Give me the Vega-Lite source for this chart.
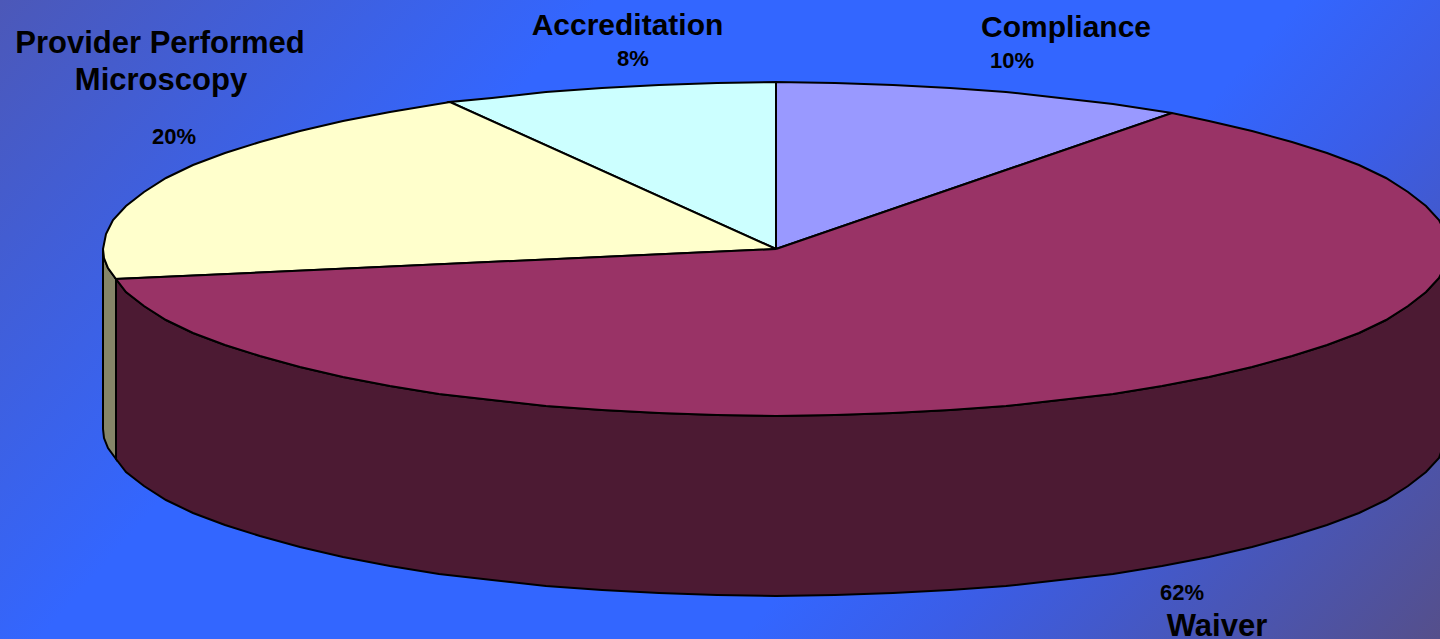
{
"$schema":"https://vega.github.io/schema/vega-lite/v6.json",
"autosize":"none",
"width":1440,"height":639,"padding":0,
"background":"#3366ff",
"config":{"view":{"stroke":null}},
"datasets":{
"frame":[{"x":0,"x2":1440,"y":0,"y2":639}],
"labels":[
{"t":"Provider Performed","x":160,"y":53,"s":"wide"},
{"t":"Microscopy","x":161,"y":90,"s":"wide"},
{"t":"Accreditation","x":627.5,"y":35,"s":"name"},
{"t":"Compliance","x":1066,"y":37,"s":"name"},
{"t":"Waiver","x":1217,"y":636,"s":"wide"},
{"t":"20%","x":174,"y":144,"s":"pct"},
{"t":"8%","x":633,"y":66,"s":"pct"},
{"t":"10%","x":1012,"y":68,"s":"pct"},
{"t":"62%","x":1182,"y":600,"s":"pct"}
],
"providerSide":[{"i":0,"x":103,"y":249},{"i":1,"x":104,"y":258},{"i":2,"x":108,"y":268},{"i":3,"x":116,"y":279},{"i":4,"x":116,"y":459},{"i":5,"x":108,"y":448},{"i":6,"x":104,"y":438},{"i":7,"x":103,"y":429},{"i":8,"x":103,"y":249}],
"waiverSide":[{"i":0,"x":116,"y":279},{"i":1,"x":126,"y":292},{"i":2,"x":144,"y":306},{"i":3,"x":166,"y":320},{"i":4,"x":193,"y":333},{"i":5,"x":225,"y":345},{"i":6,"x":260,"y":356},{"i":7,"x":300,"y":367},{"i":8,"x":343,"y":377},{"i":9,"x":390,"y":386},{"i":10,"x":439,"y":394},{"i":11,"x":492,"y":400},{"i":12,"x":546,"y":406},{"i":13,"x":602,"y":410},{"i":14,"x":659,"y":413},{"i":15,"x":717,"y":415},{"i":16,"x":776,"y":416},{"i":17,"x":835,"y":415},{"i":18,"x":893,"y":413},{"i":19,"x":950,"y":410},{"i":20,"x":1006,"y":406},{"i":21,"x":1060,"y":400},{"i":22,"x":1113,"y":394},{"i":23,"x":1162,"y":386},{"i":24,"x":1209,"y":377},{"i":25,"x":1252,"y":367},{"i":26,"x":1292,"y":356},{"i":27,"x":1327,"y":345},{"i":28,"x":1359,"y":333},{"i":29,"x":1386,"y":320},{"i":30,"x":1408,"y":306},{"i":31,"x":1426,"y":292},{"i":32,"x":1439,"y":278},{"i":33,"x":1449,"y":249},{"i":34,"x":1449,"y":429},{"i":35,"x":1439,"y":458},{"i":36,"x":1426,"y":472},{"i":37,"x":1408,"y":486},{"i":38,"x":1386,"y":500},{"i":39,"x":1359,"y":513},{"i":40,"x":1327,"y":525},{"i":41,"x":1292,"y":536},{"i":42,"x":1252,"y":547},{"i":43,"x":1209,"y":557},{"i":44,"x":1162,"y":566},{"i":45,"x":1113,"y":574},{"i":46,"x":1060,"y":580},{"i":47,"x":1006,"y":586},{"i":48,"x":950,"y":590},{"i":49,"x":893,"y":593},{"i":50,"x":835,"y":595},{"i":51,"x":776,"y":596},{"i":52,"x":717,"y":595},{"i":53,"x":659,"y":593},{"i":54,"x":602,"y":590},{"i":55,"x":546,"y":586},{"i":56,"x":492,"y":580},{"i":57,"x":439,"y":574},{"i":58,"x":390,"y":566},{"i":59,"x":343,"y":557},{"i":60,"x":300,"y":547},{"i":61,"x":260,"y":536},{"i":62,"x":225,"y":525},{"i":63,"x":193,"y":513},{"i":64,"x":166,"y":500},{"i":65,"x":144,"y":486},{"i":66,"x":126,"y":472},{"i":67,"x":116,"y":459},{"i":68,"x":116,"y":279}],
"compliance":[{"i":0,"x":776,"y":249},{"i":1,"x":776,"y":82},{"i":2,"x":835,"y":83},{"i":3,"x":893,"y":85},{"i":4,"x":950,"y":88},{"i":5,"x":1006,"y":92},{"i":6,"x":1060,"y":98},{"i":7,"x":1113,"y":104},{"i":8,"x":1172,"y":113},{"i":9,"x":776,"y":249}],
"accreditation":[{"i":0,"x":776,"y":249},{"i":1,"x":776,"y":82},{"i":2,"x":717,"y":83},{"i":3,"x":659,"y":85},{"i":4,"x":602,"y":88},{"i":5,"x":546,"y":92},{"i":6,"x":492,"y":98},{"i":7,"x":450,"y":102},{"i":8,"x":776,"y":249}],
"provider":[{"i":0,"x":776,"y":249},{"i":1,"x":450,"y":102},{"i":2,"x":390,"y":112},{"i":3,"x":343,"y":121},{"i":4,"x":300,"y":131},{"i":5,"x":260,"y":142},{"i":6,"x":225,"y":153},{"i":7,"x":193,"y":165},{"i":8,"x":166,"y":178},{"i":9,"x":144,"y":192},{"i":10,"x":126,"y":206},{"i":11,"x":113,"y":220},{"i":12,"x":106,"y":234},{"i":13,"x":103,"y":249},{"i":14,"x":104,"y":258},{"i":15,"x":108,"y":268},{"i":16,"x":116,"y":279},{"i":17,"x":776,"y":249}],
"waiver":[{"i":0,"x":776,"y":249},{"i":1,"x":1172,"y":113},{"i":2,"x":1209,"y":121},{"i":3,"x":1252,"y":131},{"i":4,"x":1292,"y":142},{"i":5,"x":1327,"y":153},{"i":6,"x":1359,"y":165},{"i":7,"x":1386,"y":178},{"i":8,"x":1408,"y":192},{"i":9,"x":1426,"y":206},{"i":10,"x":1439,"y":220},{"i":11,"x":1446,"y":234},{"i":12,"x":1449,"y":249},{"i":13,"x":1446,"y":264},{"i":14,"x":1439,"y":278},{"i":15,"x":1426,"y":292},{"i":16,"x":1408,"y":306},{"i":17,"x":1386,"y":320},{"i":18,"x":1359,"y":333},{"i":19,"x":1327,"y":345},{"i":20,"x":1292,"y":356},{"i":21,"x":1252,"y":367},{"i":22,"x":1209,"y":377},{"i":23,"x":1162,"y":386},{"i":24,"x":1113,"y":394},{"i":25,"x":1060,"y":400},{"i":26,"x":1006,"y":406},{"i":27,"x":950,"y":410},{"i":28,"x":893,"y":413},{"i":29,"x":835,"y":415},{"i":30,"x":776,"y":416},{"i":31,"x":717,"y":415},{"i":32,"x":659,"y":413},{"i":33,"x":602,"y":410},{"i":34,"x":546,"y":406},{"i":35,"x":492,"y":400},{"i":36,"x":439,"y":394},{"i":37,"x":390,"y":386},{"i":38,"x":343,"y":377},{"i":39,"x":300,"y":367},{"i":40,"x":260,"y":356},{"i":41,"x":225,"y":345},{"i":42,"x":193,"y":333},{"i":43,"x":166,"y":320},{"i":44,"x":144,"y":306},{"i":45,"x":126,"y":292},{"i":46,"x":116,"y":279},{"i":47,"x":776,"y":249}]
},
"encoding":{
"x":{"field":"x","type":"quantitative","axis":null,"scale":{"domain":[0,1440],"nice":false,"zero":false}},
"y":{"field":"y","type":"quantitative","axis":null,"scale":{"domain":[639,0],"nice":false,"zero":false}}
},
"layer":[
{"data":{"name":"frame"},
"mark":{"type":"rect","strokeWidth":0,"fill":{"gradient":"linear","x1":0,"y1":0,"x2":1.206,"y2":0.469,"stops":[{"offset":0,"color":"#4c58b8"},{"offset":0.3,"color":"#3366ff"},{"offset":0.65,"color":"#3366ff"},{"offset":0.75,"color":"#3b5de6"},{"offset":1,"color":"#554f8b"}]}},
"encoding":{"x2":{"field":"x2"},"y2":{"field":"y2"}}},
{"data":{"name":"providerSide"},"mark":{"type":"line","clip":true,"fill":"#858568","stroke":"#000000","strokeWidth":2},"encoding":{"order":{"field":"i","type":"quantitative"}}},
{"data":{"name":"waiverSide"},"mark":{"type":"line","clip":true,"fill":"#4c1a33","stroke":"#000000","strokeWidth":2},"encoding":{"order":{"field":"i","type":"quantitative"}}},
{"data":{"name":"compliance"},"mark":{"type":"line","clip":true,"fill":"#9999ff","stroke":"#000000","strokeWidth":2},"encoding":{"order":{"field":"i","type":"quantitative"}}},
{"data":{"name":"accreditation"},"mark":{"type":"line","clip":true,"fill":"#ccffff","stroke":"#000000","strokeWidth":2},"encoding":{"order":{"field":"i","type":"quantitative"}}},
{"data":{"name":"provider"},"mark":{"type":"line","clip":true,"fill":"#ffffcc","stroke":"#000000","strokeWidth":2},"encoding":{"order":{"field":"i","type":"quantitative"}}},
{"data":{"name":"waiver"},"mark":{"type":"line","clip":true,"fill":"#993366","stroke":"#000000","strokeWidth":2},"encoding":{"order":{"field":"i","type":"quantitative"}}},
{"data":{"name":"labels"},"transform":[{"filter":"datum.s=='wide'"}],"mark":{"type":"text","font":"Liberation Sans","fontWeight":"bold","fontSize":31,"align":"center","baseline":"alphabetic","color":"#000000"},"encoding":{"text":{"field":"t"}}},
{"data":{"name":"labels"},"transform":[{"filter":"datum.s=='name'"}],"mark":{"type":"text","font":"Liberation Sans","fontWeight":"bold","fontSize":30,"align":"center","baseline":"alphabetic","color":"#000000"},"encoding":{"text":{"field":"t"}}},
{"data":{"name":"labels"},"transform":[{"filter":"datum.s=='pct'"}],"mark":{"type":"text","font":"Liberation Sans","fontWeight":"bold","fontSize":22,"align":"center","baseline":"alphabetic","color":"#000000"},"encoding":{"text":{"field":"t"}}}
]
}
